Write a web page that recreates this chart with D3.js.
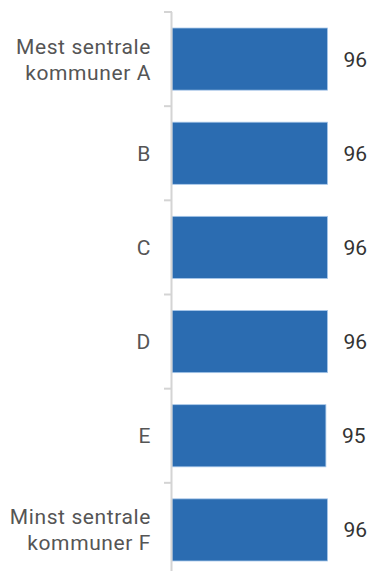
<!DOCTYPE html>
<html>
<head>
<meta charset="utf-8">
<script src="https://cdn.jsdelivr.net/npm/d3@7"></script>
<style>
  html, body { margin: 0; padding: 0; background: #fff; }
  svg { display: block; }
</style>
</head>
<body>
<svg id="chart" width="369" height="571"></svg>
<script>
const categories = ["Mest sentrale kommuner A", "B", "C", "D", "E", "Minst sentrale kommuner F"];
const values = [96, 96, 96, 96, 95, 96];
const xMax = 100;

const W = 369, H = 571;
const axisX = 172;
const svg = d3.select("#chart");

const y = d3.scaleBand()
  .domain(categories)
  .range([12, 577])
  .paddingInner(0.34)
  .paddingOuter(0.17);

const x = d3.scaleLinear().domain([0, xMax]).range([axisX, 334]);

// bars
svg.selectAll("rect.bar")
  .data(categories)
  .join("rect")
  .attr("class", "bar")
  .attr("x", x(0))
  .attr("y", d => y(d))
  .attr("width", (d, i) => x(values[i]) - x(0))
  .attr("height", y.bandwidth())
  .attr("fill", "#2b6cb1")
  .attr("stroke", "#a9c8ea")
  .attr("stroke-width", 0.8);

// axis line + boundary ticks
const step = y.step();
const boundaries = categories.map(c => y(c) - step * y.paddingInner() / 2);
boundaries.push(y(categories[categories.length - 1]) + y.bandwidth() + step * y.paddingInner() / 2);

const axisG = svg.append("g");
axisG.append("line")
  .attr("x1", axisX - 0.5).attr("x2", axisX - 0.5)
  .attr("y1", boundaries[0]).attr("y2", boundaries[boundaries.length - 1])
  .attr("stroke", "#d4d4d4").attr("stroke-width", 2);
axisG.selectAll("line.tick")
  .data(boundaries)
  .join("line")
  .attr("class", "tick")
  .attr("x1", axisX - 8).attr("x2", axisX)
  .attr("y1", d => d).attr("y2", d => d)
  .attr("stroke", "#d4d4d4").attr("stroke-width", 2);

// category labels (wrapped)
const fontFam = "Roboto, 'Open Sans', Arial, sans-serif";
const lineH = 26;
function wrapLabel(s) {
  const words = s.split(" ");
  if (words.length <= 1) return [s];
  const lines = [];
  let cur = "";
  words.forEach(w => {
    const test = cur ? cur + " " + w : w;
    if (test.length > 14 && cur) { lines.push(cur); cur = w; } else cur = test;
  });
  if (cur) lines.push(cur);
  return lines;
}
const labels = svg.selectAll("text.cat")
  .data(categories)
  .join("text")
  .attr("class", "cat")
  .attr("text-anchor", "end")
  .attr("font-family", fontFam)
  .attr("font-size", 21)
  .attr("letter-spacing", 0.6)
  .attr("fill", "#555555");
labels.each(function(d) {
  const lines = wrapLabel(d);
  const cy = y(d) + y.bandwidth() / 2;
  const t = d3.select(this);
  lines.forEach((ln, i) => {
    t.append("tspan")
      .attr("x", 151)
      .attr("y", cy + (i - (lines.length - 1) / 2) * lineH)
      .attr("dy", "0.36em")
      .text(ln);
  });
});

// value labels
svg.selectAll("text.val")
  .data(categories)
  .join("text")
  .attr("class", "val")
  .attr("x", (d, i) => x(values[i]) + 16)
  .attr("y", d => y(d) + y.bandwidth() / 2)
  .attr("dy", "0.36em")
  .attr("font-family", fontFam)
  .attr("font-size", 21)
  .attr("fill", "#333333")
  .text((d, i) => values[i]);
</script>
</body>
</html>
